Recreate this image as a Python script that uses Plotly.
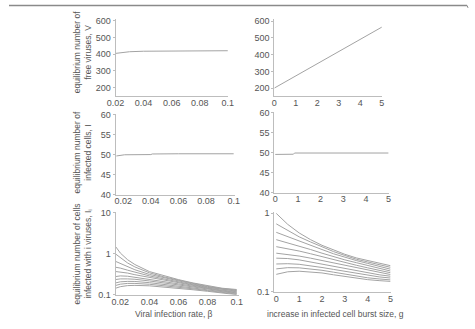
import plotly.graph_objects as go

W, H = 475, 329

# ---------------- data ----------------
beta_top = [0.02, 0.025, 0.03, 0.04, 0.05, 0.06, 0.08, 0.1]
V_beta = [405, 411, 415, 418, 419, 420, 421, 421]

g_top = [0, 1, 2, 3, 4, 5]
V_g = [200, 273, 346, 419, 492, 565]

beta_mid = [0.015, 0.019, 0.021, 0.04, 0.041, 0.06, 0.08, 0.1]
I_beta = [49.7, 49.8, 50.0, 50.05, 50.2, 50.25, 50.25, 50.25]

g_mid = [0, 0.5, 0.8, 0.85, 2, 3, 4, 5]
I_g = [49.6, 49.6, 49.65, 49.95, 49.95, 49.95, 49.95, 49.95]

beta_bot = [0.017, 0.02, 0.025, 0.03, 0.04, 0.05, 0.06, 0.07, 0.08, 0.09, 0.1]
Ii_beta = [
    [1.47, 1.05, 0.72, 0.55, 0.37, 0.29, 0.235, 0.195, 0.165, 0.145, 0.135],
    [0.98, 0.80, 0.60, 0.48, 0.345, 0.275, 0.225, 0.19, 0.161, 0.142, 0.131],
    [0.65, 0.58, 0.49, 0.41, 0.315, 0.26, 0.215, 0.183, 0.157, 0.138, 0.127],
    [0.47, 0.45, 0.40, 0.355, 0.29, 0.245, 0.205, 0.176, 0.152, 0.134, 0.123],
    [0.37, 0.36, 0.34, 0.31, 0.265, 0.228, 0.195, 0.168, 0.147, 0.130, 0.119],
    [0.28, 0.29, 0.285, 0.27, 0.24, 0.21, 0.185, 0.161, 0.142, 0.126, 0.115],
    [0.237, 0.245, 0.245, 0.24, 0.218, 0.195, 0.174, 0.154, 0.137, 0.122, 0.111],
    [0.196, 0.208, 0.213, 0.212, 0.198, 0.181, 0.164, 0.147, 0.132, 0.118, 0.108],
    [0.17, 0.182, 0.19, 0.19, 0.181, 0.168, 0.154, 0.14, 0.127, 0.114, 0.104],
    [0.146, 0.158, 0.168, 0.17, 0.166, 0.156, 0.145, 0.133, 0.122, 0.11, 0.101],
]

g_bot = [0, 0.5, 1, 1.5, 2, 2.5, 3, 3.5, 4, 4.5, 5]
Ii_g = [
    [0.99, 0.72, 0.56, 0.46, 0.39, 0.34, 0.30, 0.27, 0.25, 0.23, 0.215],
    [0.73, 0.60, 0.50, 0.43, 0.37, 0.325, 0.29, 0.26, 0.24, 0.22, 0.205],
    [0.57, 0.50, 0.44, 0.39, 0.345, 0.305, 0.275, 0.25, 0.23, 0.21, 0.194],
    [0.46, 0.42, 0.38, 0.345, 0.31, 0.28, 0.255, 0.235, 0.215, 0.198, 0.184],
    [0.375, 0.355, 0.33, 0.305, 0.28, 0.255, 0.235, 0.218, 0.202, 0.188, 0.175],
    [0.31, 0.30, 0.285, 0.268, 0.25, 0.232, 0.215, 0.20, 0.188, 0.176, 0.166],
    [0.268, 0.265, 0.255, 0.24, 0.226, 0.21, 0.197, 0.185, 0.174, 0.165, 0.158],
    [0.226, 0.228, 0.224, 0.215, 0.204, 0.193, 0.182, 0.171, 0.162, 0.155, 0.150],
    [0.196, 0.203, 0.202, 0.196, 0.188, 0.178, 0.168, 0.159, 0.151, 0.146, 0.142],
    [0.167, 0.18, 0.183, 0.18, 0.174, 0.165, 0.157, 0.149, 0.143, 0.139, 0.136],
]

beta_ticks = [0.02, 0.04, 0.06, 0.08, 0.1]
beta_ticklabels = ["0.02", "0.04", "0.06", "0.08", "0.1"]
g_ticks = [0, 1, 2, 3, 4, 5]

ylab_V = "equilibrium number of<br>free viruses, V"
ylab_I = "equilibrium number of<br>infected cells, I"
ylab_Ii = "equilibrium number of cells<br>infected with i viruses, I<sub>i</sub>"
xlab_beta = "Viral infection rate, β"
xlab_g = "increase in infected cell burst size, g"

# ---------------- styling ----------------
FONT = "Liberation Sans, Arial, sans-serif"
TXT = "#555555"
LINE = "#a3a3a3"
AX = "#bdbdbd"


def px_x(a, b):
    return [a / W, b / W]


def px_y(top, bottom):
    return [1 - bottom / H, 1 - top / H]


fig = go.Figure()

panels = [
    ("1", beta_top, [V_beta], (110, 226), (15, 95), [0.02, 0.1], [148, 613], "linear", "beta"),
    ("2", g_top, [V_g], (274, 385), (15, 95), [0, 5], [150, 616], "linear", "g"),
    ("3", beta_mid, [I_beta], (110, 233), (113, 196), [0.0144, 0.1007], [40, 60.25], "linear", "beta"),
    ("4", g_mid, [I_g], (274, 392), (111, 194), [-0.04, 5.0], [40, 60.25], "linear", "g"),
    ("5", beta_bot, Ii_beta, (110, 237), (214, 299), [0.0167, 0.1013], [-1, 1.02], "log", "beta"),
    ("6", g_bot, Ii_g, (274, 394), (214, 296), [-0.085, 5.0], [-1, 0.012], "log", "g"),
]

ytickvals = {
    "1": [200, 300, 400, 500, 600],
    "2": [200, 300, 400, 500, 600],
    "3": [40, 45, 50, 55, 60],
    "4": [40, 45, 50, 55, 60],
    "5": [0.1, 1, 10],
    "6": [0.1, 1],
}
yticktext = {
    "5": ["0.1", "1", "10"],
    "6": ["0.1", "1"],
}

layout = {}
for name, xs, series, xd, yd, xr, yr, ytype, xt in panels:
    sfx = "" if name == "1" else name
    for ys in series:
        fig.add_trace(go.Scatter(
            x=xs, y=ys, mode="lines",
            line=dict(color=LINE, width=1),
            xaxis="x" + sfx, yaxis="y" + sfx, showlegend=False,
            hoverinfo="skip",
        ))
    xa = dict(
        domain=px_x(*xd), range=xr, anchor="y" + sfx,
        showline=True, linecolor=AX, linewidth=1, showgrid=False, zeroline=False,
        ticks="", ticklen=0, ticklabelstandoff=-2,
        tickfont=dict(family=FONT, size=9, color=TXT),
    )
    if xt == "beta":
        xa.update(tickvals=beta_ticks, ticktext=beta_ticklabels)
    else:
        xa.update(tickvals=g_ticks)
    ya = dict(
        domain=px_y(*yd), range=yr, type=ytype, anchor="x" + sfx,
        showline=True, linecolor=AX, linewidth=1, showgrid=False, zeroline=False,
        ticks="outside", ticklen=2, tickcolor=AX,
        tickvals=ytickvals[name],
        tickfont=dict(family=FONT, size=9, color=TXT),
    )
    if name in yticktext:
        ya.update(ticktext=yticktext[name])
    layout["xaxis" + sfx] = xa
    layout["yaxis" + sfx] = ya

annotations = []
for text, ypx in [(ylab_V, 50), (ylab_I, 153), (ylab_Ii, 257)]:
    annotations.append(dict(
        text=text, x=76 / W, y=1 - ypx / H, xref="paper", yref="paper",
        textangle=-90, showarrow=False, xanchor="center", yanchor="middle",
        font=dict(family=FONT, size=8.5, color=TXT), align="center",
    ))
annotations.append(dict(
    text=xlab_beta, x=170 / W, y=1 - 319 / H, xref="paper", yref="paper",
    showarrow=False, xanchor="center", yanchor="middle",
    font=dict(family=FONT, size=8.5, color=TXT),
))
annotations.append(dict(
    text=xlab_g, x=337 / W, y=1 - 319 / H, xref="paper", yref="paper",
    showarrow=False, xanchor="center", yanchor="middle",
    font=dict(family=FONT, size=8.5, color=TXT),
))

shapes = [
    dict(type="line", xref="paper", yref="paper", x0=0, x1=473 / W,
         y0=1 - 1.5 / H, y1=1 - 1.5 / H, line=dict(color="#8a8a8a", width=1.5)),
    dict(type="line", xref="paper", yref="paper", x0=473 / W, x1=474 / W,
         y0=1 - 1.5 / H, y1=1 - 4 / H, line=dict(color="#8a8a8a", width=1)),
]

fig.update_layout(
    width=W, height=H, margin=dict(l=0, r=0, t=0, b=0),
    paper_bgcolor="white", plot_bgcolor="white",
    annotations=annotations, shapes=shapes,
    **layout,
)

fig.write_html("out.html")
